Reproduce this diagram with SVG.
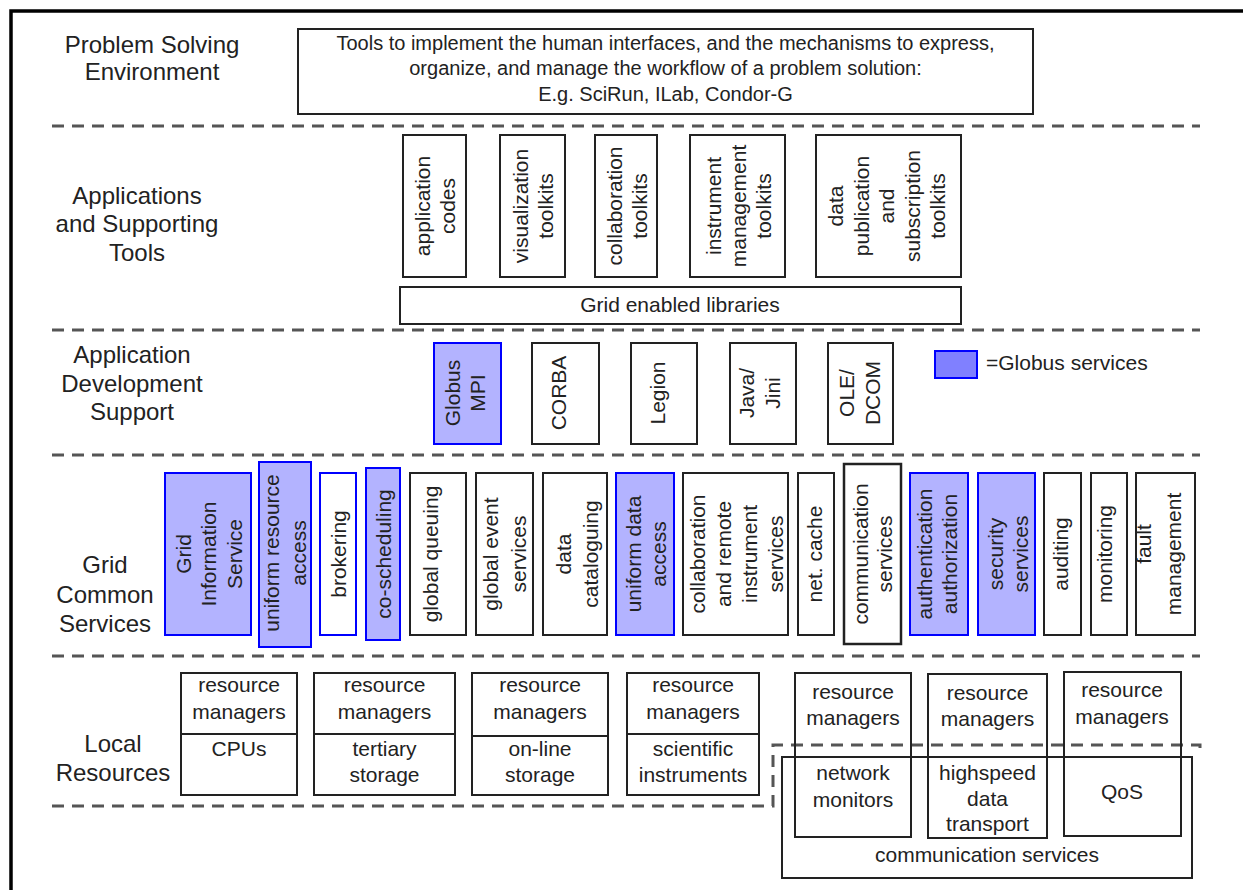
<svg xmlns="http://www.w3.org/2000/svg" width="1243" height="890" viewBox="0 0 1243 890">
<style>
text{font-family:"Liberation Sans",Arial,sans-serif;fill:#222;font-size:21px;text-anchor:middle}
.lbl{font-size:24px}
.top{font-size:20px}
.v{dominant-baseline:central}
.box{fill:#fff;stroke:#222;stroke-width:2}
.open{fill:none;stroke:#222;stroke-width:2}
.gl{fill:#b3b3ff;stroke:#0000ff;stroke-width:2}
.gw{fill:#fff;stroke:#0000ff;stroke-width:2}
.dash{fill:none;stroke:#555;stroke-width:3;stroke-dasharray:12 8}
</style>
<rect x="0" y="0" width="1243" height="890" fill="#fff"/>
<path d="M11,900 V11 H1250" fill="none" stroke="#000" stroke-width="3.5"/>

<g id="separators">
<line class="dash" x1="52" y1="126" x2="1200" y2="126"/>
<line class="dash" x1="52" y1="330" x2="1200" y2="330"/>
<line class="dash" x1="52" y1="455" x2="1200" y2="455"/>
<line class="dash" x1="52" y1="656" x2="1200" y2="656"/>
<path class="dash" d="M52,806 H773 V745 H1200 V752"/>
</g>

<g id="layer-labels">
<text class="lbl" x="152" y="53">Problem Solving</text>
<text class="lbl" x="152" y="80">Environment</text>
<text class="lbl" x="137" y="204">Applications</text>
<text class="lbl" x="137" y="232">and Supporting</text>
<text class="lbl" x="137" y="261">Tools</text>
<text class="lbl" x="132" y="363">Application</text>
<text class="lbl" x="132" y="392">Development</text>
<text class="lbl" x="132" y="420">Support</text>
<text class="lbl" x="105" y="573">Grid</text>
<text class="lbl" x="105" y="603">Common</text>
<text class="lbl" x="105" y="632">Services</text>
<text class="lbl" x="113" y="752">Local</text>
<text class="lbl" x="113" y="781">Resources</text>
</g>

<g id="pse">
<rect class="box" x="298" y="29" width="735" height="85"/>
<text class="top" x="665.5" y="50">Tools to implement the human interfaces, and the mechanisms to express,</text>
<text class="top" x="665.5" y="75">organize, and manage the workflow of a problem solution:</text>
<text class="top" x="665.5" y="101">E.g. SciRun, ILab, Condor-G</text>
</g>

<g id="app-codes">
<rect class="box" x="403" y="135" width="63" height="142"/>
<text class="v" transform="translate(434,206) rotate(-90)"><tspan x="0" y="-12">application</tspan><tspan x="0" y="13">codes</tspan></text>
</g>
<g id="vis-toolkits">
<rect class="box" x="500" y="135" width="65" height="142"/>
<text class="v" transform="translate(532.5,206) rotate(-90)"><tspan x="0" y="-12.5">visualization</tspan><tspan x="0" y="12.5">toolkits</tspan></text>
</g>
<g id="collab-toolkits">
<rect class="box" x="595" y="135" width="62" height="142"/>
<text class="v" transform="translate(626,206) rotate(-90)"><tspan x="0" y="-12.5">collaboration</tspan><tspan x="0" y="12.5">toolkits</tspan></text>
</g>
<g id="instr-toolkits">
<rect class="box" x="690" y="135" width="95" height="142"/>
<text class="v" transform="translate(737.5,206) rotate(-90)"><tspan x="0" y="-25">instrument</tspan><tspan x="0" y="0">management</tspan><tspan x="0" y="25">toolkits</tspan></text>
</g>
<g id="data-pub-toolkits">
<rect class="box" x="816" y="135" width="145" height="142"/>
<text class="v" transform="translate(886,206) rotate(-90)"><tspan x="0" y="-51">data</tspan><tspan x="0" y="-25.5">publication</tspan><tspan x="0" y="0">and</tspan><tspan x="0" y="25.5">subscription</tspan><tspan x="0" y="51">toolkits</tspan></text>
</g>
<g id="grid-libs">
<rect class="box" x="400" y="287" width="561" height="37"/>
<text x="680" y="312">Grid enabled libraries</text>
</g>

<g id="globus-mpi">
<rect class="gl" x="434" y="343" width="67" height="101"/>
<text class="v" transform="translate(465,393) rotate(-90)"><tspan x="0" y="-13">Globus</tspan><tspan x="0" y="12">MPI</tspan></text>
</g>
<g id="corba">
<rect class="box" x="532" y="343" width="67" height="101"/>
<text class="v" transform="translate(558,393) rotate(-90)">CORBA</text>
</g>
<g id="legion">
<rect class="box" x="631" y="343" width="66" height="101"/>
<text class="v" transform="translate(657,393) rotate(-90)">Legion</text>
</g>
<g id="java-jini">
<rect class="box" x="730" y="343" width="66" height="101"/>
<text class="v" transform="translate(759,393) rotate(-90)"><tspan x="0" y="-13">Java/</tspan><tspan x="0" y="13">Jini</tspan></text>
</g>
<g id="ole-dcom">
<rect class="box" x="828" y="343" width="65" height="101"/>
<text class="v" transform="translate(859,393) rotate(-90)"><tspan x="0" y="-13">OLE/</tspan><tspan x="0" y="13">DCOM</tspan></text>
</g>
<g id="legend">
<rect x="935" y="351" width="42" height="27" fill="#8080ff" stroke="#0000ff" stroke-width="2"/>
<text x="986" y="370" style="text-anchor:start">=Globus services</text>
</g>

<g id="gis">
<rect class="gl" x="165" y="473" width="86" height="162"/>
<text class="v" transform="translate(208,554) rotate(-90)"><tspan x="0" y="-25.5">Grid</tspan><tspan x="0" y="0">Information</tspan><tspan x="0" y="25.5">Service</tspan></text>
</g>
<g id="ura">
<rect class="gl" x="259" y="462" width="52" height="185"/>
<text class="v" transform="translate(284,553) rotate(-90)"><tspan x="0" y="-13.5">uniform resource</tspan><tspan x="0" y="13.5">access</tspan></text>
</g>
<g id="brokering">
<rect class="gw" x="320" y="473" width="36" height="162"/>
<text class="v" transform="translate(338,554) rotate(-90)">brokering</text>
</g>
<g id="co-scheduling">
<rect class="gl" x="366" y="468" width="34" height="172"/>
<text class="v" transform="translate(383,554) rotate(-90)">co-scheduling</text>
</g>
<g id="global-queuing">
<rect class="box" x="410" y="473" width="56" height="162"/>
<text class="v" transform="translate(430,554) rotate(-90)">global queuing</text>
</g>
<g id="global-event">
<rect class="box" x="476" y="473" width="57" height="162"/>
<text class="v" transform="translate(504,554) rotate(-90)"><tspan x="0" y="-14">global event</tspan><tspan x="0" y="14">services</tspan></text>
</g>
<g id="data-cataloguing">
<rect class="box" x="543" y="473" width="64" height="162"/>
<text class="v" transform="translate(576,554) rotate(-90)"><tspan x="0" y="-13.5">data</tspan><tspan x="0" y="13.5">cataloguing</tspan></text>
</g>
<g id="uniform-data-access">
<rect class="gl" x="616" y="473" width="58" height="162"/>
<text class="v" transform="translate(645,554) rotate(-90)"><tspan x="0" y="-12.5">uniform data</tspan><tspan x="0" y="12.5">access</tspan></text>
</g>
<g id="collab-remote">
<rect class="box" x="683" y="473" width="105" height="162"/>
<text class="v" transform="translate(736,554) rotate(-90)"><tspan x="0" y="-39">collaboration</tspan><tspan x="0" y="-13">and remote</tspan><tspan x="0" y="13">instrument</tspan><tspan x="0" y="39">services</tspan></text>
</g>
<g id="net-cache">
<rect class="box" x="798" y="473" width="36" height="162"/>
<text class="v" transform="translate(814,554) rotate(-90)">net. cache</text>
</g>
<g id="comm-services">
<rect class="box" x="844" y="464" width="57" height="180" style="stroke-width:2.5"/>
<text class="v" transform="translate(872,554) rotate(-90)"><tspan x="0" y="-12">communication</tspan><tspan x="0" y="12">services</tspan></text>
</g>
<g id="auth">
<rect class="gl" x="910" y="473" width="58" height="162"/>
<text class="v" transform="translate(936,554) rotate(-90)"><tspan x="0" y="-12.5">authentication</tspan><tspan x="0" y="12.5">authorization</tspan></text>
</g>
<g id="security">
<rect class="gl" x="978" y="473" width="57" height="162"/>
<text class="v" transform="translate(1007.5,554) rotate(-90)"><tspan x="0" y="-12.5">security</tspan><tspan x="0" y="12.5">services</tspan></text>
</g>
<g id="auditing">
<rect class="box" x="1044" y="473" width="37" height="162"/>
<text class="v" transform="translate(1060,554) rotate(-90)">auditing</text>
</g>
<g id="monitoring">
<rect class="box" x="1091" y="473" width="36" height="162"/>
<text class="v" transform="translate(1104,554) rotate(-90)">monitoring</text>
</g>
<g id="fault-management">
<rect class="box" x="1136" y="473" width="59" height="162"/>
<text class="v" transform="translate(1158,554) rotate(-90)"><tspan x="10" y="-15">fault</tspan><tspan x="0" y="15">management</tspan></text>
</g>

<g id="cpus">
<rect class="box" x="181" y="673" width="116" height="122"/>
<line x1="181" y1="734" x2="297" y2="734" stroke="#222" stroke-width="2"/>
<text x="239" y="692">resource</text>
<text x="239" y="719">managers</text>
<text x="239" y="756">CPUs</text>
</g>
<g id="tertiary-storage">
<rect class="box" x="314" y="673" width="141" height="122"/>
<line x1="314" y1="734" x2="455" y2="734" stroke="#222" stroke-width="2"/>
<text x="384.5" y="692">resource</text>
<text x="384.5" y="719">managers</text>
<text x="384.5" y="756">tertiary</text>
<text x="384.5" y="782">storage</text>
</g>
<g id="online-storage">
<rect class="box" x="472" y="673" width="136" height="122"/>
<line x1="472" y1="736" x2="608" y2="736" stroke="#222" stroke-width="2"/>
<text x="540" y="692">resource</text>
<text x="540" y="719">managers</text>
<text x="540" y="756">on-line</text>
<text x="540" y="782">storage</text>
</g>
<g id="scientific-instruments">
<rect class="box" x="627" y="673" width="132" height="122"/>
<line x1="627" y1="734" x2="759" y2="734" stroke="#222" stroke-width="2"/>
<text x="693" y="692">resource</text>
<text x="693" y="719">managers</text>
<text x="693" y="756">scientific</text>
<text x="693" y="782">instruments</text>
</g>

<g id="communication-services">
<rect class="open" x="782" y="757" width="410" height="121"/>
<text x="987" y="862">communication services</text>
</g>
<g id="network-monitors">
<rect class="open" x="795" y="673" width="116" height="164"/>
<text x="853" y="699">resource</text>
<text x="853" y="725">managers</text>
<text x="853" y="780">network</text>
<text x="853" y="807">monitors</text>
</g>
<g id="highspeed-transport">
<rect class="open" x="928" y="674" width="119" height="164"/>
<text x="987.5" y="700">resource</text>
<text x="987.5" y="726">managers</text>
<text x="987.5" y="780">highspeed</text>
<text x="987.5" y="806">data</text>
<text x="987.5" y="831">transport</text>
</g>
<g id="qos">
<rect class="open" x="1064" y="672" width="117" height="164"/>
<text x="1122" y="697">resource</text>
<text x="1122" y="724">managers</text>
<text x="1122" y="799">QoS</text>
</g>
</svg>
